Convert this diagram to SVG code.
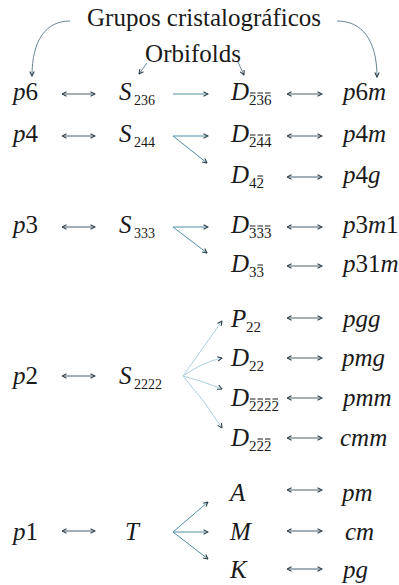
<svg xmlns="http://www.w3.org/2000/svg" width="399" height="585" viewBox="0 0 399 585">
<style>
text{font-family:"Liberation Serif","Times New Roman",serif;fill:#1a1a1a}
.t{font-size:25px}
.m{font-size:25px;font-style:italic}
.d{font-style:normal}
.s{font-size:15px;font-style:normal}
.ss{font-size:14px;font-style:normal}
.bar{stroke:#1a1a1a;stroke-width:1}
.lr{stroke:#4a5f6e;stroke-width:1;fill:none;marker-start:url(#h);marker-end:url(#h)}
.r{stroke:#4f8ea6;stroke-width:1;fill:none;marker-end:url(#h)}
.f{stroke:#a9d0df;stroke-width:1;fill:none;marker-end:url(#h)}
.c{stroke:#6b8594;stroke-width:1;fill:none;marker-end:url(#h)}
</style>
<defs>
<marker id="h" viewBox="0 0 6 6" refX="5.5" refY="3" markerWidth="6" markerHeight="6" markerUnits="userSpaceOnUse" orient="auto-start-reverse">
<path d="M1,0.8 L5.5,3 L1,5.2" fill="none" stroke="#2f3f4a" stroke-width="1.1"/>
</marker>
</defs>
<rect width="399" height="585" fill="#ffffff"/>

<g id="titles">
<text class="t" x="204" y="26" text-anchor="middle">Grupos cristalográficos</text>
<text class="t" x="193" y="62" text-anchor="middle">Orbifolds</text>
</g>

<g id="connectors">
<path class="c" d="M70,21 C46,21 32,40 32,76"/>
<path class="c" d="M337,21 C362,21 377,40 377,77"/>
<path class="c" d="M147,63 L139,74"/>
<path class="c" d="M238,62 L244,75"/>
<path class="lr" d="M62,94 L95,94"/>
<path class="r" d="M173,94 L208,94"/>
<path class="lr" d="M287,94 L322,94"/>
<path class="lr" d="M62,136 L95,136"/>
<path class="r" d="M173,136 L208,136"/>
<path class="r" d="M173,136 L207,163"/>
<path class="lr" d="M287,136 L322,136"/>
<path class="lr" d="M287,177 L322,177"/>
<path class="lr" d="M62,227 L95,227"/>
<path class="r" d="M173,227 L208,227"/>
<path class="r" d="M173,227 L207,253"/>
<path class="lr" d="M287,227 L322,227"/>
<path class="lr" d="M287,266 L322,266"/>
<path class="lr" d="M62,376 L95,376"/>
<path class="f" d="M183,376 Q205,345 222,321"/>
<path class="f" d="M183,376 Q203,362 222,358"/>
<path class="f" d="M183,376 Q203,381 222,389"/>
<path class="f" d="M183,376 Q205,401 222,428"/>
<path class="lr" d="M287,318 L322,318"/>
<path class="lr" d="M287,358 L322,358"/>
<path class="lr" d="M287,398 L322,398"/>
<path class="lr" d="M287,438 L322,438"/>
<path class="lr" d="M62,531 L95,531"/>
<path class="r" d="M173,532 L208,502"/>
<path class="r" d="M173,532 L208,532"/>
<path class="r" d="M173,532 L208,559"/>
<path class="lr" d="M287,490 L322,490"/>
<path class="lr" d="M287,531 L322,531"/>
<path class="lr" d="M287,569 L322,569"/>
</g>

<g id="row-p6">
<text class="m" x="13" y="100">p<tspan class="d">6</tspan></text>
<text class="m" x="119" y="100">S<tspan class="ss" x="134" dy="5">236</tspan></text>
<text class="m" x="231" y="100">D<tspan class="s" x="249" dy="5">236</tspan></text>
<path class="bar" d="M250,93 h5.5 M257.5,93 h5.5 M265,93 h5.5"/>
<text class="m" x="343" y="100">p<tspan class="d">6</tspan>m</text>
</g>

<g id="row-p4">
<text class="m" x="13" y="142">p<tspan class="d">4</tspan></text>
<text class="m" x="119" y="142">S<tspan class="ss" x="134" dy="5">244</tspan></text>
<text class="m" x="231" y="142">D<tspan class="s" x="249" dy="5">244</tspan></text>
<path class="bar" d="M250,135 h5.5 M257.5,135 h5.5 M265,135 h5.5"/>
<text class="m" x="343" y="142">p<tspan class="d">4</tspan>m</text>
<text class="m" x="231" y="183">D<tspan class="s" x="249" dy="5">42</tspan></text>
<path class="bar" d="M257.5,176 h5.5"/>
<text class="m" x="343" y="183">p<tspan class="d">4</tspan>g</text>
</g>

<g id="row-p3">
<text class="m" x="13" y="233">p<tspan class="d">3</tspan></text>
<text class="m" x="119" y="233">S<tspan class="ss" x="134" dy="5">333</tspan></text>
<text class="m" x="231" y="233">D<tspan class="s" x="249" dy="5">333</tspan></text>
<path class="bar" d="M250,226 h5.5 M257.5,226 h5.5 M265,226 h5.5"/>
<text class="m" x="343" y="233">p<tspan class="d">3</tspan>m<tspan class="d">1</tspan></text>
<text class="m" x="231" y="272">D<tspan class="s" x="249" dy="5">33</tspan></text>
<path class="bar" d="M257.5,265 h5.5"/>
<text class="m" x="343" y="272">p<tspan class="d">31</tspan>m</text>
</g>

<g id="row-p2">
<text class="m" x="13" y="384">p<tspan class="d">2</tspan></text>
<text class="m" x="119" y="384">S<tspan class="ss" x="134" dy="5">2222</tspan></text>
<text class="m" x="231" y="327">P<tspan class="s" x="246" dy="5">22</tspan></text>
<text class="m" x="343" y="327">pgg</text>
<text class="m" x="231" y="366">D<tspan class="s" x="249" dy="5">22</tspan></text>
<text class="m" x="342" y="366">pmg</text>
<text class="m" x="231" y="406">D<tspan class="s" x="249" dy="5">2222</tspan></text>
<path class="bar" d="M250,399 h5.5 M257.5,399 h5.5 M265,399 h5.5 M272.5,399 h5.5"/>
<text class="m" x="343" y="406">pmm</text>
<text class="m" x="231" y="446">D<tspan class="s" x="249" dy="5">222</tspan></text>
<path class="bar" d="M257.5,439 h5.5 M265,439 h5.5"/>
<text class="m" x="340" y="446">cmm</text>
</g>

<g id="row-p1">
<text class="m" x="13" y="540">p<tspan class="d">1</tspan></text>
<text class="m" x="125" y="540">T</text>
<text class="m" x="230" y="501">A</text>
<text class="m" x="342" y="501">pm</text>
<text class="m" x="230" y="540">M</text>
<text class="m" x="345" y="540">cm</text>
<text class="m" x="230" y="578">K</text>
<text class="m" x="343" y="578">pg</text>
</g>
</svg>
